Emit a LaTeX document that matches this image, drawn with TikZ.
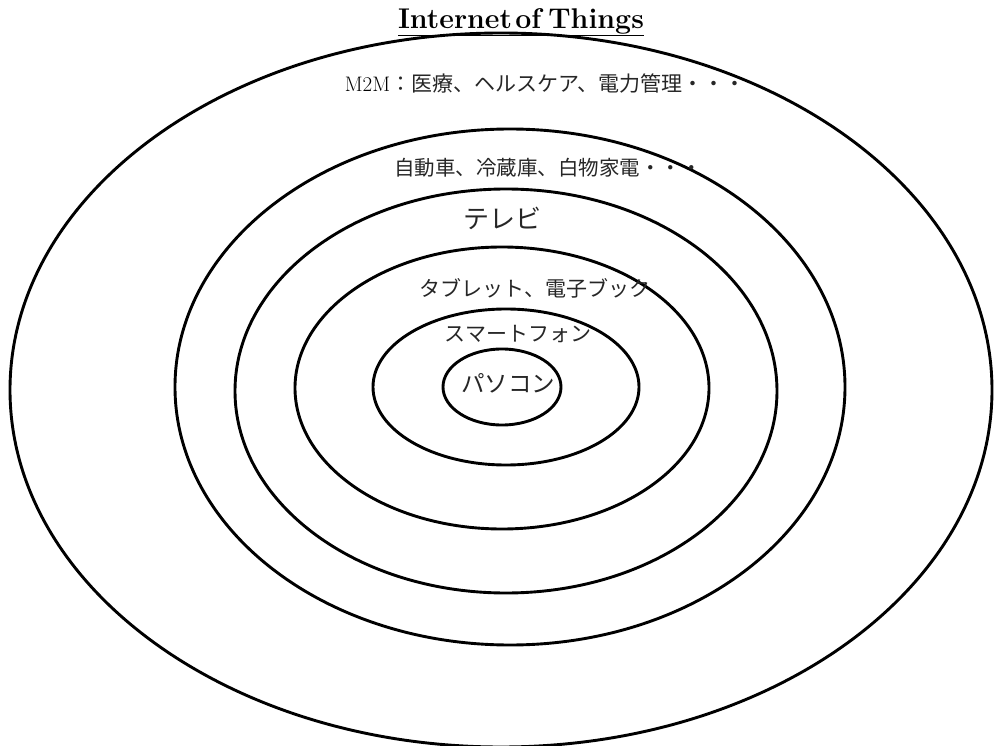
\documentclass[tikz,border=0pt]{standalone}
\usepackage{fontspec}
\newfontfamily\jp{Noto Sans CJK JP}
\usetikzlibrary{shapes.geometric}
\begin{document}
\begin{tikzpicture}[x=1pt,y=-1pt,
  ring/.style={draw=black, line width=2.9pt, ellipse, inner sep=0pt, outer sep=0pt},
  lbl/.style={inner sep=0pt, outer sep=0pt, text=black!85}]
\useasboundingbox (0,0) rectangle (994,746);
% rings
\node[ring, minimum width=982pt, minimum height=714pt] (e1) at (501,390) {};
\node[ring, minimum width=670pt, minimum height=516pt] (e2) at (510,387) {};
\node[ring, minimum width=542pt, minimum height=404pt] (e3) at (506,391) {};
\node[ring, minimum width=414pt, minimum height=282pt] (e4) at (502,388) {};
\node[ring, minimum width=266pt, minimum height=156pt] (e5) at (506,387) {};
\node[ring, minimum width=118pt, minimum height=76pt] (e6) at (502,387) {};
% labels
\node[lbl, text=black, font=\fontsize{28.5}{32}\selectfont\bfseries] (title) at (521,22) {\underline{Internet\hspace{0.12em}of\hspace{0.25em}Things}};
\node[lbl, text=black, font=\fontsize{21}{24}\selectfont] (m2m) at (545,84) {M2M{\jp\color{black!85} ：医療、ヘルスケア、電力管理・・・}};
\node[lbl, font=\jp\fontsize{20.5}{24}\selectfont] (home) at (548,168) {自動車、冷蔵庫、白物家電・・・};
\node[lbl, font=\jp\fontsize{26}{30}\selectfont] (tv) at (502,218) {テレビ};
\node[lbl, font=\jp\fontsize{21}{24}\selectfont] (tab) at (535,288) {タブレット、電子ブック};
\node[lbl, font=\jp\fontsize{21}{24}\selectfont] (sp) at (518,334) {スマートフォン};
\node[lbl, font=\jp\fontsize{23.5}{26}\selectfont] (pc) at (508,383) {パソコン};
\end{tikzpicture}
\end{document}
